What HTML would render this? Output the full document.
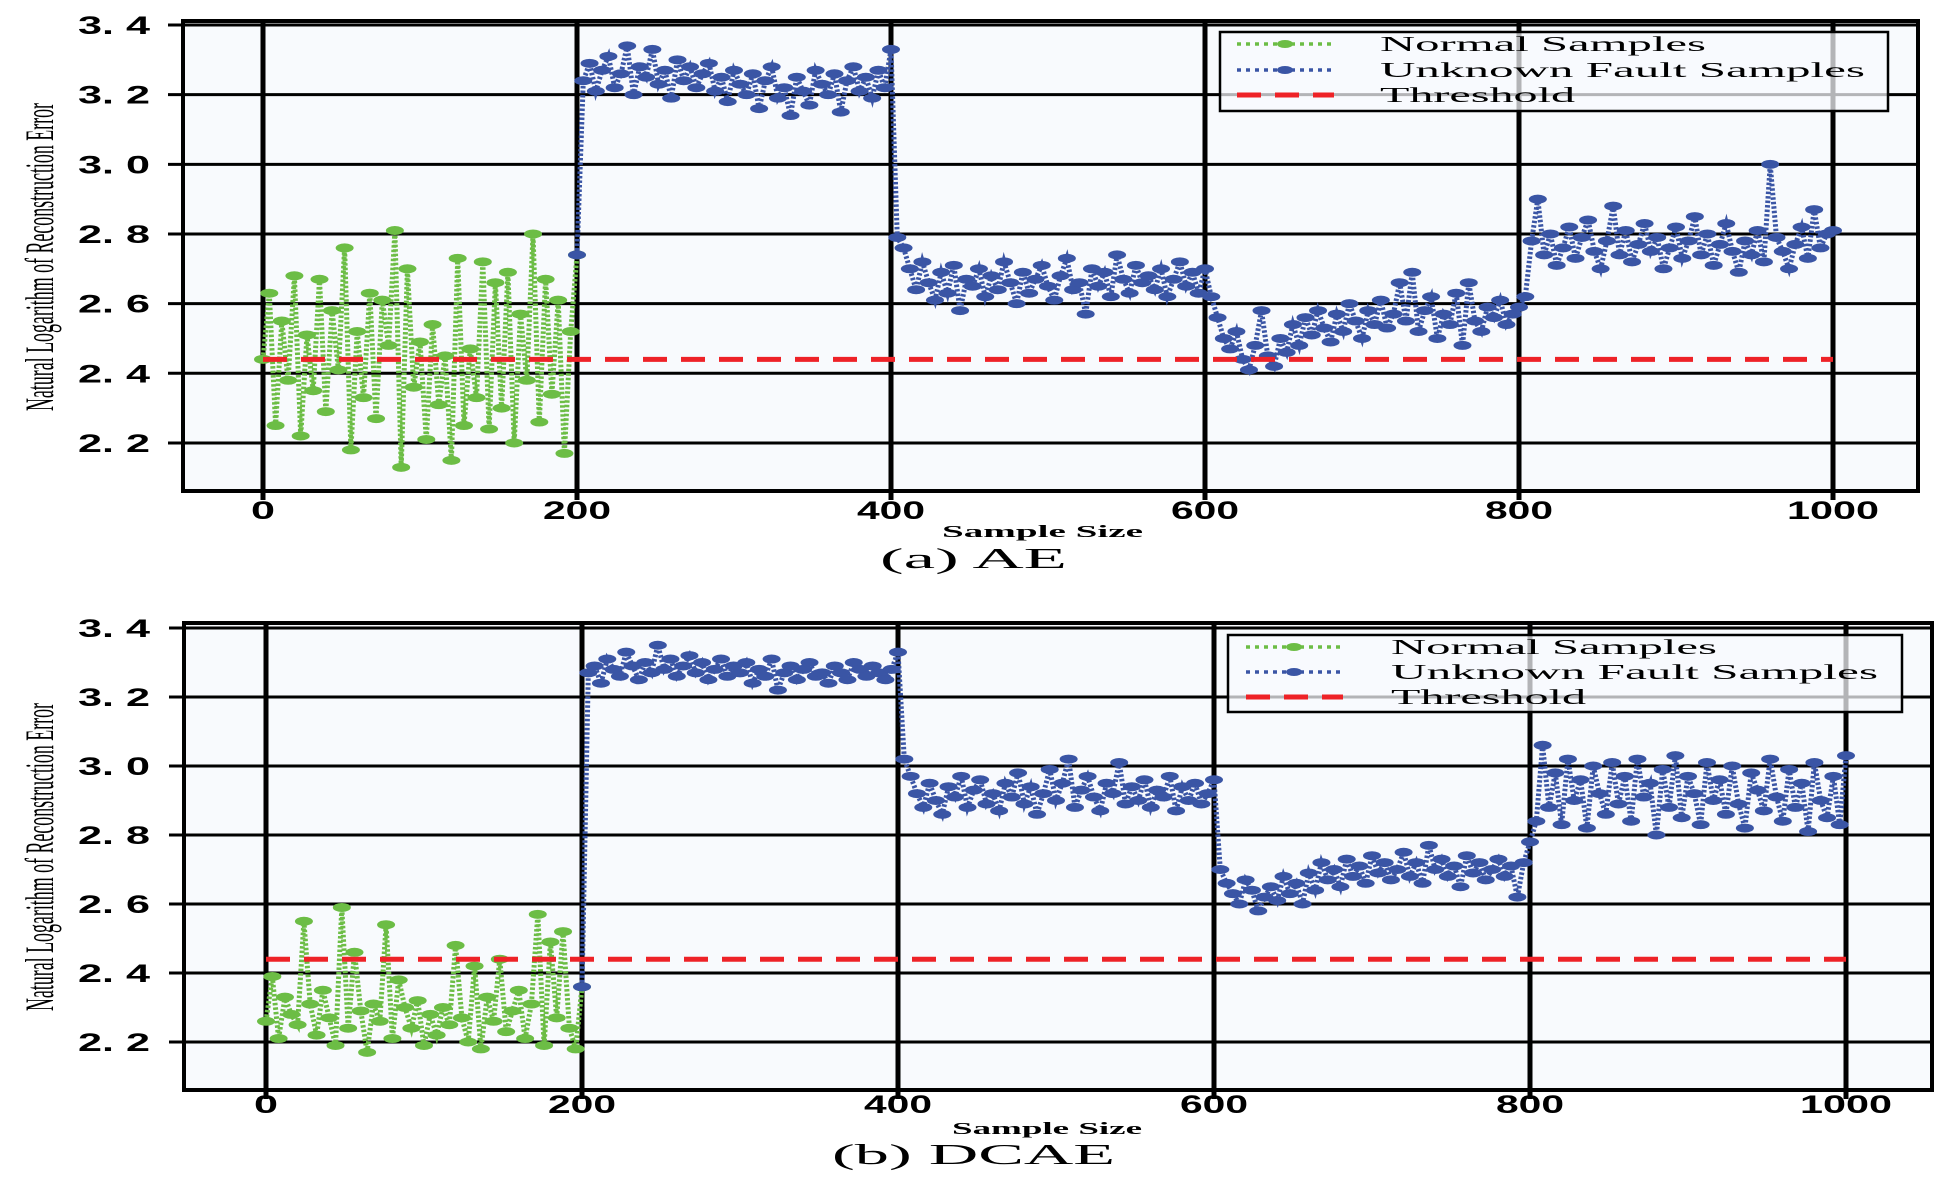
<!DOCTYPE html>
<html><head><meta charset="utf-8"><style>
html,body{margin:0;padding:0;background:#fff;}
svg{display:block;}
</style></head><body>
<svg id="fig" width="1953" height="1191" viewBox="0 0 1953 1191" xmlns="http://www.w3.org/2000/svg"></svg>
<script>
// ---------- data (sampled every 4 samples) ----------
const xTicks = [0,200,400,600,800,1000];
const yTicks = [2.2,2.4,2.6,2.8,3.0,3.2,3.4];
const yTickLabels = ["2. 2","2. 4","2. 6","2. 8","3. 0","3. 2","3. 4"];
const threshold = 2.44;
const normalA = [2.44,2.63,2.25,2.55,2.38,2.68,2.22,2.51,2.35,2.67,2.29,2.58,2.41,2.76,2.18,2.52,2.33,2.63,2.27,2.61,2.48,2.81,2.13,2.70,2.36,2.49,2.21,2.54,2.31,2.45,2.15,2.73,2.25,2.47,2.33,2.72,2.24,2.66,2.30,2.69,2.20,2.57,2.38,2.80,2.26,2.67,2.34,2.61,2.17,2.52,2.74];
const faultA1 = [3.24,3.29,3.21,3.27,3.31,3.22,3.26,3.34,3.20,3.28,3.25,3.33,3.23,3.27,3.19,3.30,3.24,3.28,3.22,3.26,3.29,3.21,3.25,3.18,3.27,3.23,3.20,3.26,3.16,3.24,3.28,3.19,3.22,3.14,3.25,3.21,3.17,3.27,3.23,3.20,3.26,3.15,3.24,3.28,3.21,3.25,3.19,3.27,3.22,3.33];
const faultA2 = [2.79,2.76,2.70,2.64,2.72,2.66,2.61,2.69,2.63,2.71,2.58,2.67,2.65,2.70,2.62,2.68,2.64,2.72,2.66,2.60,2.69,2.63,2.67,2.71,2.65,2.61,2.68,2.73,2.64,2.66,2.57,2.70,2.65,2.69,2.62,2.74,2.67,2.63,2.71,2.66,2.68,2.64,2.70,2.62,2.67,2.72,2.65,2.69,2.63,2.70];
const faultA3 = [2.62,2.56,2.50,2.47,2.52,2.44,2.41,2.48,2.58,2.45,2.42,2.50,2.46,2.54,2.48,2.56,2.51,2.58,2.53,2.49,2.57,2.52,2.60,2.55,2.50,2.58,2.54,2.61,2.53,2.57,2.66,2.55,2.69,2.52,2.58,2.62,2.50,2.57,2.54,2.63,2.48,2.66,2.55,2.52,2.59,2.56,2.61,2.54,2.57,2.59];
const faultA4 = [2.62,2.78,2.90,2.74,2.80,2.71,2.76,2.82,2.73,2.79,2.84,2.75,2.70,2.78,2.88,2.74,2.81,2.72,2.77,2.83,2.75,2.79,2.70,2.76,2.82,2.73,2.78,2.85,2.74,2.80,2.71,2.77,2.83,2.75,2.69,2.78,2.74,2.81,2.72,3.00,2.79,2.75,2.70,2.77,2.82,2.73,2.87,2.76,2.80,2.81];
const normalB = [2.26,2.39,2.21,2.33,2.28,2.25,2.55,2.31,2.22,2.35,2.27,2.19,2.59,2.24,2.46,2.29,2.17,2.31,2.26,2.54,2.21,2.38,2.30,2.24,2.32,2.19,2.28,2.22,2.30,2.25,2.48,2.27,2.20,2.42,2.18,2.33,2.26,2.44,2.23,2.29,2.35,2.21,2.31,2.57,2.19,2.49,2.27,2.52,2.24,2.18,2.36];
const faultB1 = [3.27,3.29,3.24,3.31,3.28,3.26,3.33,3.29,3.25,3.30,3.27,3.35,3.28,3.31,3.26,3.29,3.32,3.27,3.30,3.25,3.28,3.31,3.26,3.29,3.27,3.30,3.24,3.28,3.26,3.31,3.22,3.27,3.29,3.25,3.28,3.30,3.26,3.27,3.24,3.29,3.27,3.25,3.30,3.28,3.26,3.29,3.27,3.25,3.28,3.33];
const faultB2 = [3.02,2.97,2.92,2.88,2.95,2.90,2.86,2.94,2.91,2.97,2.88,2.93,2.96,2.89,2.92,2.87,2.95,2.91,2.98,2.89,2.94,2.86,2.92,2.99,2.90,2.95,3.02,2.88,2.93,2.97,2.91,2.87,2.95,2.92,3.01,2.89,2.94,2.90,2.96,2.88,2.93,2.91,2.97,2.87,2.94,2.90,2.95,2.89,2.92,2.96];
const faultB3 = [2.70,2.66,2.63,2.60,2.67,2.64,2.58,2.62,2.65,2.61,2.68,2.63,2.66,2.60,2.69,2.64,2.72,2.67,2.70,2.65,2.73,2.68,2.71,2.66,2.74,2.69,2.72,2.67,2.70,2.75,2.68,2.72,2.66,2.77,2.70,2.73,2.68,2.71,2.65,2.74,2.69,2.72,2.67,2.70,2.73,2.68,2.71,2.62,2.72,2.78];
const faultB4 = [2.84,3.06,2.88,2.98,2.83,3.02,2.90,2.96,2.82,3.00,2.92,2.86,3.01,2.89,2.97,2.84,3.02,2.91,2.95,2.80,2.99,2.88,3.03,2.85,2.97,2.92,2.83,3.01,2.90,2.96,2.86,3.00,2.89,2.82,2.98,2.93,2.87,3.02,2.91,2.84,2.99,2.88,2.95,2.81,3.01,2.90,2.85,2.97,2.83,3.03];
const legendLabels = ["Normal  Samples","Unknown  Fault  Samples","Threshold"];

const NS = "http://www.w3.org/2000/svg";
const svg = document.getElementById('fig');
const GREEN = "#6cbd45", BLUE = "#3a55a5", RED = "#ee2227";
function mk(tag, attrs, parent){
  const e = document.createElementNS(NS, tag);
  for (const k in attrs) e.setAttribute(k, attrs[k]);
  (parent||svg).appendChild(e);
  return e;
}

function panel(P, normal, faults, id){
  const g = mk('g', {});
  
  
  const X = v => P.x0 + v * P.kx;
  const Y = v => P.y34 + (3.4 - v) * P.ky;
  const bg = mk('rect', {x:P.L, y:P.T, width:P.R-P.L, height:P.B-P.T, fill:'#f8fafd'}, g);
  
  
  yTicks.forEach((t,i) => {
    const y = Y(t);
    const gl = mk('line', {x1:P.L-15, x2:P.R, y1:y, y2:y, stroke:'#000', 'stroke-width':3}, g);
    
    
    const tl = mk('text', {x:78, y:y+9, 'font-family':'Liberation Sans, sans-serif', 'font-weight':'bold', 'font-size':25, textLength:72, lengthAdjust:'spacingAndGlyphs', fill:'#000'}, g);
    tl.textContent = yTickLabels[i];
    
    
  });
  xTicks.forEach(t => {
    const x = X(t);
    const gl = mk('line', {x1:x, x2:x, y1:P.T, y2:P.B+9, stroke:'#000', 'stroke-width':5}, g);
    
    
    const s = String(t);
    const w = s.length===1 ? 24 : (s.length===3 ? 68 : 92);
    const tl = mk('text', {x:x - w/2, y:P.xl, 'font-family':'Liberation Sans, sans-serif', 'font-weight':'bold', 'font-size':25, textLength:w, lengthAdjust:'spacingAndGlyphs', fill:'#000'}, g);
    tl.textContent = s;
    
    
  });
  function series(vals, xs, color, name){
    const sg = mk('g', {}, g);
    
    
    const pts = vals.map((v,i) => X(xs[i]).toFixed(1) + ',' + Y(v).toFixed(1)).join(' ');
    const pl = mk('polyline', {points:pts, fill:'none', stroke:color, 'stroke-width':5, 'stroke-dasharray':'2.5 2'}, sg);
    
    
    vals.forEach((v,i) => {
      const m = mk('ellipse', {cx:X(xs[i]), cy:Y(v), rx:9, ry:4.5, fill:color}, sg);
      
      
    });
  }
  series(normal, normal.map((_,i) => i*4), GREEN, 'normal-samples');
  const fv = [normal[normal.length-1]].concat(...faults);
  const fx = fv.map((_,i) => 200 + i*4);
  series(fv, fx, BLUE, 'unknown-fault-samples');
  const th = mk('line', {x1:X(0), x2:X(1000), y1:Y(threshold), y2:Y(threshold), stroke:RED, 'stroke-width':5, 'stroke-dasharray':'24 14'}, g);
  
  
  const fr = mk('rect', {x:P.L, y:P.T, width:P.R-P.L, height:P.B-P.T, fill:'none', stroke:'#000', 'stroke-width':4}, g);
  
  
  const lg = mk('g', {}, g);
  
  
  const lb = mk('rect', {x:P.lg.x, y:P.lg.y, width:P.lg.w, height:P.lg.h, fill:'#f8fafd', 'fill-opacity':0.72, stroke:'#000', 'stroke-width':2.5}, lg);
  
  
  const cols = [GREEN, BLUE, RED];
  legendLabels.forEach((lab,i) => {
    const ly = P.lg.ly[i];
    const e = mk('g', {}, lg);
    
    
    if (i < 2) {
      mk('line', {x1:P.lg.sx, x2:P.lg.sx+97, y1:ly, y2:ly, stroke:cols[i], 'stroke-width':3.5, 'stroke-dasharray':'4 5'}, e);
      mk('ellipse', {cx:P.lg.sx+48, cy:ly, rx:8, ry:4, fill:cols[i]}, e);
    } else {
      mk('line', {x1:P.lg.sx, x2:P.lg.sx+97, y1:ly, y2:ly, stroke:cols[i], 'stroke-width':5, 'stroke-dasharray':'24 14'}, e);
    }
    const t = mk('text', {x:P.lg.tx, y:ly+7, 'font-family':'Liberation Serif, serif', 'font-size':21, textLength:P.lg.tw[i], lengthAdjust:'spacingAndGlyphs', 'xml:space':'preserve', fill:'#000'}, e);
    t.textContent = lab;
  });
  const yt = mk('text', {transform:'translate(53,' + P.yc + ') rotate(-90)', 'text-anchor':'middle', 'font-family':'Liberation Serif, serif', 'font-size':40, textLength:308, lengthAdjust:'spacingAndGlyphs', fill:'#000'}, g);
  yt.textContent = 'Natural Logarithm of Reconstruction Error';
  
  
  const xt = mk('text', {x:P.sx, y:P.sy, 'font-family':'Liberation Serif, serif', 'font-weight':'bold', 'font-size':17, textLength:P.sw, lengthAdjust:'spacingAndGlyphs', fill:'#000'}, g);
  xt.textContent = 'Sample Size';
  
  
  const cp = mk('text', {x:P.cx, y:P.cy, 'font-family':'Liberation Serif, serif', 'font-size':29, textLength:P.cw, lengthAdjust:'spacingAndGlyphs', 'xml:space':'preserve', fill:'#000'}, g);
  cp.textContent = P.caption;
  
  
}

panel({L:183,R:1918,T:21,B:491,x0:263,kx:1.57,y34:25,ky:348.3,xl:519,yc:257,
  sx:942,sy:537,sw:201,cx:880,cy:568,cw:187,caption:'(a)  AE',
  lg:{x:1220,y:32,w:668,h:79,sx:1237,tx:1380,ly:[44,70,95],tw:[326,485,195]}},
  normalA,[faultA1,faultA2,faultA3,faultA4],'ae');
panel({L:184,R:1932,T:623,B:1090,x0:266,kx:1.58,y34:628,ky:345,xl:1113,yc:857,
  sx:952,sy:1134,sw:190,cx:832,cy:1164,cw:283,caption:'(b)  DCAE',
  lg:{x:1228,y:635,w:674,h:77,sx:1246,tx:1391,ly:[647,672,697],tw:[326,487,195]}},
  normalB,[faultB1,faultB2,faultB3,faultB4],'dcae');
</script>
</body></html>
